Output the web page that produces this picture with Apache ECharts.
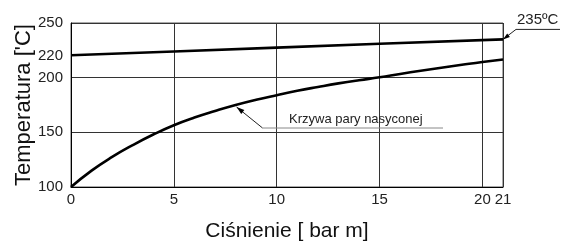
<!DOCTYPE html>
<html>
<head>
<meta charset="utf-8">
<script src="https://cdn.jsdelivr.net/npm/echarts@6/dist/echarts.min.js"></script>
<style>html,body{margin:0;padding:0;background:#fff}#c{width:564px;height:241px}</style>
</head>
<body>
<div id="c"></div>
<script>
// Data
const pressure = [0, 1, 2, 3, 4, 5, 6, 7, 8, 9, 10, 11, 12, 13, 14, 15, 16, 17, 18, 19, 20, 21];
const saturationTemp = [100, 115, 127.5, 138.3, 148, 156.5, 163.5, 169.5, 175, 179.8, 184, 188, 191.5, 194.8, 197.7, 200.3, 203.4, 206.3, 209.1, 211.8, 214.4, 216.6];
const superheatPressure = [0, 5, 10, 15, 21];
const superheatTemp = [220.5, 224, 227.5, 231, 235];
const xTickLabels = [0, 5, 10, 15, 20, 21];
const yTickLabels = [100, 150, 200, 220, 250];
const superheatLabel = '235ºC';
const curveLabel = 'Krzywa pary nasyconej';
const curveLabelPressure = 8;

const FONT = '"Liberation Sans", Arial, Helvetica, sans-serif';
const chart = echarts.init(document.getElementById('c'), null, {renderer: 'canvas'});

chart.setOption({
  animation: false,
  backgroundColor: '#fff',
  grid: {left: 71, right: 61, top: 23, bottom: 54, show: true, borderColor: '#555', borderWidth: 1, containLabel: false, outerBoundsMode: 'none'},
  xAxis: {
    type: 'value', min: 0, max: 21, interval: 5,
    name: 'Ciśnienie [ bar m]', nameLocation: 'middle', nameGap: 34, nameMoveOverlap: false,
    nameTextStyle: {fontFamily: FONT, fontSize: 21, color: '#111'},
    axisLine: {show: true, lineStyle: {color: '#000', width: 1}},
    axisTick: {show: false},
    axisLabel: {customValues: xTickLabels, fontFamily: FONT, fontSize: 15, color: '#222', margin: 5},
    splitLine: {show: true, lineStyle: {color: '#333', width: 1}}
  },
  yAxis: {
    type: 'value', min: 100, max: 250, interval: 50,
    name: "Temperatura ['C]", nameLocation: 'middle', nameGap: 36, nameRotate: 90, nameMoveOverlap: false,
    nameTextStyle: {fontFamily: FONT, fontSize: 22, color: '#111'},
    axisLine: {show: true, lineStyle: {color: '#000', width: 1}},
    axisTick: {show: false},
    axisLabel: {customValues: yTickLabels, fontFamily: FONT, fontSize: 15, color: '#222', margin: 8},
    splitLine: {show: true, lineStyle: {color: '#333', width: 1}}
  },
  series: [
    {
      type: 'line', smooth: true, showSymbol: false,
      data: pressure.map((p, i) => [p, saturationTemp[i]]),
      lineStyle: {color: '#000', width: 2.6}
    },
    {
      type: 'line', smooth: false, showSymbol: false,
      data: superheatPressure.map((p, i) => [p, superheatTemp[i]]),
      lineStyle: {color: '#000', width: 2.6}
    }
  ]
});

function arrowHead(tip, from, len, half) {
  const dx = tip[0] - from[0], dy = tip[1] - from[1];
  const d = Math.sqrt(dx * dx + dy * dy);
  const ux = dx / d, uy = dy / d;
  const bx = tip[0] - ux * len, by = tip[1] - uy * len;
  return [[tip[0], tip[1]], [bx - uy * half, by + ux * half], [bx + uy * half, by - ux * half]];
}

const a1 = chart.convertToPixel({gridIndex: 0}, [superheatPressure[superheatPressure.length - 1], superheatTemp[superheatTemp.length - 1]]);
const k1 = [a1[0] + 13, a1[1] - 10];
const idx = pressure.indexOf(curveLabelPressure);
const a2 = chart.convertToPixel({gridIndex: 0}, [curveLabelPressure, saturationTemp[idx]]);
const tip2 = [a2[0] + 1, a2[1] + 2];
const k2 = [tip2[0] + 26, tip2[1] + 21];

chart.setOption({
  graphic: [
    {type: 'polyline', shape: {points: [a1, k1, [560, k1[1]]]}, style: {stroke: '#222', lineWidth: 1, fill: null}},
    {type: 'polygon', shape: {points: arrowHead(a1, k1, 7, 2.2)}, style: {fill: '#000'}},
    {type: 'text', x: k1[0] + 1, y: k1[1] - 2, style: {text: superheatLabel, fontFamily: FONT, fontSize: 15, fill: '#222', verticalAlign: 'bottom', align: 'left'}},
    {type: 'polyline', shape: {points: [tip2, k2]}, style: {stroke: '#222', lineWidth: 1, fill: null}},
    {type: 'line', shape: {x1: k2[0], y1: k2[1], x2: 443, y2: k2[1]}, style: {stroke: '#888', lineWidth: 1}},
    {type: 'polygon', shape: {points: arrowHead(tip2, k2, 8, 2.5)}, style: {fill: '#000'}},
    {type: 'text', x: 289, y: k2[1] - 2, style: {text: curveLabel, fontFamily: FONT, fontSize: 13, fill: '#222', verticalAlign: 'bottom', align: 'left'}}
  ]
});
</script>
</body>
</html>
